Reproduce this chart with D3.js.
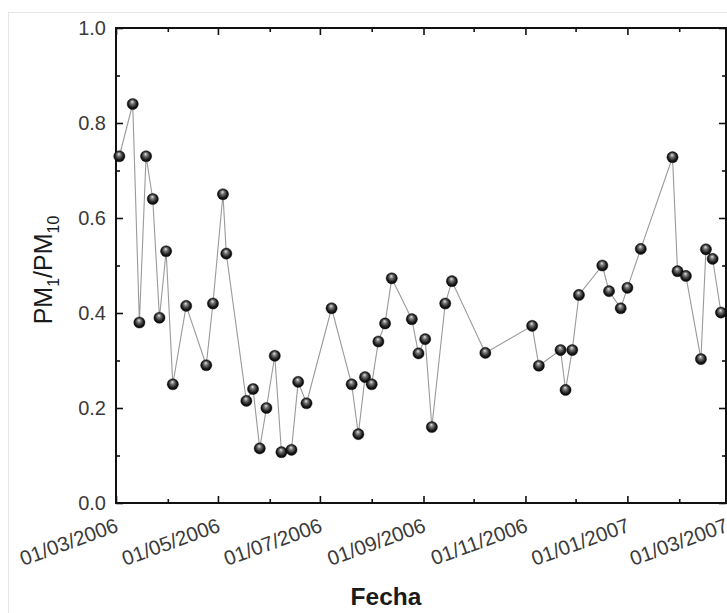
<!DOCTYPE html>
<html>
<head>
<meta charset="utf-8">
<script src="https://cdn.jsdelivr.net/npm/d3@7"></script>
<style>
  html, body { margin: 0; padding: 0; background: #fff; }
  svg { display: block; }
</style>
</head>
<body>
<svg id="chart" width="727" height="613"></svg>
<script>
// ---- data ----
const dates = [
  "2006-03-03","2006-03-11","2006-03-15","2006-03-19","2006-03-23","2006-03-27","2006-03-31",
  "2006-04-04","2006-04-12","2006-04-24","2006-04-28","2006-05-04","2006-05-06","2006-05-18",
  "2006-05-22","2006-05-26","2006-05-30","2006-06-04","2006-06-08","2006-06-14","2006-06-18",
  "2006-06-23","2006-07-08","2006-07-20","2006-07-24","2006-07-28","2006-08-01","2006-08-05",
  "2006-08-09","2006-08-13","2006-08-25","2006-08-29","2006-09-02","2006-09-06","2006-09-14",
  "2006-09-18","2006-10-08","2006-11-05","2006-11-09","2006-11-22","2006-11-25","2006-11-29",
  "2006-12-03","2006-12-17","2006-12-21","2006-12-28","2007-01-01","2007-01-09","2007-01-28",
  "2007-01-31","2007-02-05","2007-02-14","2007-02-17","2007-02-21","2007-02-26"
];
const ratioPM1PM10 = [
  0.73, 0.84, 0.38, 0.73, 0.64, 0.39, 0.53,
  0.25, 0.415, 0.29, 0.42, 0.65, 0.525, 0.215,
  0.24, 0.115, 0.20, 0.31, 0.107, 0.112, 0.255,
  0.21, 0.41, 0.25, 0.145, 0.265, 0.25, 0.34,
  0.378, 0.473, 0.387, 0.315, 0.345, 0.16, 0.42,
  0.467, 0.316, 0.373, 0.289, 0.322, 0.238, 0.322,
  0.438, 0.50, 0.446, 0.41, 0.453, 0.535, 0.728,
  0.488, 0.478, 0.303, 0.534, 0.514, 0.401
];
const xMajorTicks = ["2006-03-01","2006-05-01","2006-07-01","2006-09-01","2006-11-01","2007-01-01","2007-03-01"];
const xMajorLabels = ["01/03/2006","01/05/2006","01/07/2006","01/09/2006","01/11/2006","01/01/2007","01/03/2007"];
const xMinorTicks = ["2006-04-01","2006-06-01","2006-08-01","2006-10-01","2006-12-01","2007-02-01"];
const yMajorTicks = [0, 0.2, 0.4, 0.6, 0.8, 1.0];
const yMinorTicks = [0.1, 0.3, 0.5, 0.7, 0.9];
const xTitle = "Fecha";

// ---- layout ----
const parse = d3.utcParse("%Y-%m-%d");
const L = 116, R = 726, T = 28, B = 503;
const FONT = "Liberation Sans, Arial, sans-serif";
const svg = d3.select("#chart");

// light outer frame of the figure
svg.append("rect").attr("x", 8.5).attr("y", 12.5).attr("width", 740).attr("height", 620)
  .attr("fill", "none").attr("stroke", "#e6e6e6").attr("stroke-width", 1);

const x = d3.scaleUtc().domain([parse("2006-03-01"), parse("2007-03-01")]).range([L, R]);
const y = d3.scaleLinear().domain([0, 1]).range([B, T]);

const majorX = xMajorTicks.map(parse), minorX = xMinorTicks.map(parse);
const labelOf = new Map(majorX.map((d, i) => [+d, xMajorLabels[i]]));

function styleAxis(g) {
  g.select(".domain").remove();
  g.selectAll(".tick line").attr("stroke", "#111").attr("stroke-width", 1.6);
}

// bottom axis (inward ticks)
const gBottom = svg.append("g").attr("transform", `translate(0,${B})`)
  .call(d3.axisBottom(x).tickValues(majorX).tickSize(-7).tickPadding(0)
    .tickFormat(d => labelOf.get(+d)))
  .call(styleAxis);
gBottom.selectAll(".tick text")
  .attr("font-family", FONT)
  .attr("font-size", 20.5).attr("fill", "#3a3a3a")
  .attr("text-anchor", "end")
  .attr("y", 0).attr("dy", 0)
  .attr("transform", "translate(3,28) rotate(-20)");
svg.append("g").attr("transform", `translate(0,${B})`)
  .call(d3.axisBottom(x).tickValues(minorX).tickSize(-4).tickFormat(""))
  .call(styleAxis);

// top axis
svg.append("g").attr("transform", `translate(0,${T})`)
  .call(d3.axisTop(x).tickValues(majorX).tickSize(-7).tickFormat(""))
  .call(styleAxis);
svg.append("g").attr("transform", `translate(0,${T})`)
  .call(d3.axisTop(x).tickValues(minorX).tickSize(-4).tickFormat(""))
  .call(styleAxis);

// left axis
const gLeft = svg.append("g").attr("transform", `translate(${L},0)`)
  .call(d3.axisLeft(y).tickValues(yMajorTicks).tickSize(-7).tickPadding(10)
    .tickFormat(d3.format(".1f")))
  .call(styleAxis);
gLeft.selectAll(".tick text")
  .attr("font-family", FONT)
  .attr("font-size", 20).attr("fill", "#3a3a3a");
svg.append("g").attr("transform", `translate(${L},0)`)
  .call(d3.axisLeft(y).tickValues(yMinorTicks).tickSize(-4).tickFormat(""))
  .call(styleAxis);

// right axis
svg.append("g").attr("transform", `translate(${R},0)`)
  .call(d3.axisRight(y).tickValues(yMajorTicks).tickSize(-7).tickFormat(""))
  .call(styleAxis);
svg.append("g").attr("transform", `translate(${R},0)`)
  .call(d3.axisRight(y).tickValues(yMinorTicks).tickSize(-4).tickFormat(""))
  .call(styleAxis);

// frame
svg.append("rect").attr("x", L).attr("y", T).attr("width", R - L).attr("height", B - T)
  .attr("fill", "none").attr("stroke", "#111").attr("stroke-width", 2);

// data
const data = dates.map((d, i) => ({ date: parse(d), v: ratioPM1PM10[i] }));

// sphere gradient
const defs = svg.append("defs");
const grad = defs.append("radialGradient").attr("id", "sphere")
  .attr("cx", "50%").attr("cy", "50%").attr("r", "55%").attr("fx", "45%").attr("fy", "28%");
grad.append("stop").attr("offset", "0%").attr("stop-color", "#e8e8e8");
grad.append("stop").attr("offset", "30%").attr("stop-color", "#777");
grad.append("stop").attr("offset", "70%").attr("stop-color", "#1a1a1a");
grad.append("stop").attr("offset", "100%").attr("stop-color", "#000");

const plot = svg.append("g");
plot.append("path").datum(data)
  .attr("fill", "none").attr("stroke", "#9a9a9a").attr("stroke-width", 1.1)
  .attr("d", d3.line().x(d => x(d.date)).y(d => y(d.v)));

plot.selectAll("circle").data(data).join("circle")
  .attr("cx", d => x(d.date)).attr("cy", d => y(d.v)).attr("r", 5.6)
  .attr("fill", "url(#sphere)").attr("stroke", "#000").attr("stroke-width", 0.4);

// titles
svg.append("text").attr("x", 386).attr("y", 605).attr("text-anchor", "middle")
  .attr("font-family", FONT).attr("font-weight", "bold")
  .attr("font-size", 24.5).attr("fill", "#1a1a1a").text(xTitle);

const yl = svg.append("text")
  .attr("transform", "translate(52,270) rotate(-90)")
  .attr("text-anchor", "middle")
  .attr("font-family", FONT)
  .attr("font-size", 25).attr("fill", "#1a1a1a");
yl.append("tspan").text("PM");
yl.append("tspan").attr("font-size", 16).attr("dy", 7).text("1");
yl.append("tspan").attr("dy", -7).text("/PM");
yl.append("tspan").attr("font-size", 16).attr("dy", 7).text("10");
</script>
</body>
</html>
